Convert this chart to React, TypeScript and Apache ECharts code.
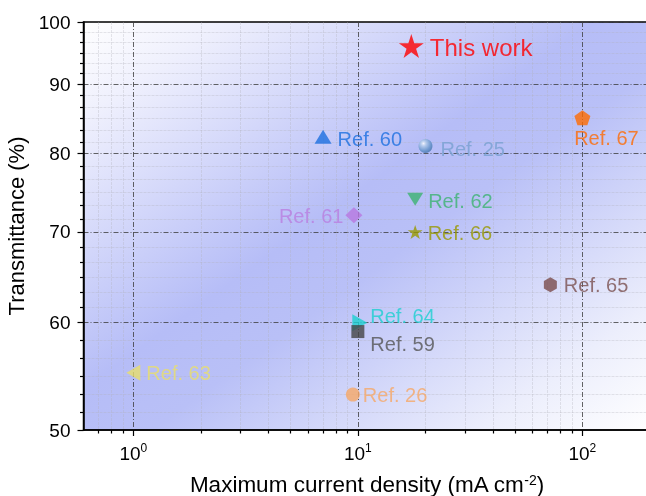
import React, { useEffect, useRef } from 'react';
import * as echarts from 'echarts';

// Devices: maximum current density (mA cm^-2) and transmittance (%)
const markNames = [
  'This work', 'Ref. 60', 'Ref. 25', 'Ref. 67', 'Ref. 62', 'Ref. 61',
  'Ref. 66', 'Ref. 65', 'Ref. 64', 'Ref. 59', 'Ref. 63', 'Ref. 26',
];
const currentDensity = [17.3, 7, 20, 100, 18, 9.6, 18, 72, 10.2, 10, 1, 9.5];
const transmittance = [96, 82.3, 81, 85, 74, 72, 70, 64, 60, 59.1, 55.1, 53.1];

// Axis ranges and ticks (raw values; both axes are logarithmic)
const xRange = [0.6, 200];
const yRange = [50, 100];
const xMajorTicks = [1, 10, 100];
const xMinorTicks = [0.7, 0.8, 0.9, 2, 3, 4, 5, 6, 7, 8, 9, 20, 30, 40, 50, 60, 70, 80, 90];
const yMajorTicks = [50, 60, 70, 80, 90, 100];
const yMinorPerInterval = 5;

const FONT = '"Liberation Sans", Arial, Helvetica, sans-serif';
const lg = (v: number) => Math.log10(v);

const STAR = 'path://M0,-1L0.2245,-0.309L0.951,-0.309L0.363,0.118L0.588,0.809L0,0.382L-0.588,0.809L-0.363,0.118L-0.951,-0.309L-0.2245,-0.309Z';
const PENTAGON = 'path://M0,-1L0.951,-0.309L0.588,0.809L-0.588,0.809L-0.951,-0.309Z';
const HEXAGON = 'path://M0,-1L0.866,-0.5L0.866,0.5L0,1L-0.866,0.5L-0.866,-0.5Z';

const sphere = new echarts.graphic.RadialGradient(0.36, 0.32, 0.75, [
  { offset: 0, color: '#ffffff' },
  { offset: 0.25, color: '#b3cdea' },
  { offset: 0.7, color: '#5e8fc6' },
  { offset: 1, color: '#3e6ea6' },
]);

type MarkStyle = {
  symbol: string;
  size: number | number[];
  rotate?: number;
  color: any;
  labelColor: string;
  fontSize?: number;
  position: string;
  distance: number;
  offset?: number[];
};

const markStyles: Record<string, MarkStyle> = {
  'This work': { symbol: STAR, size: [25, 24], color: '#ff0000', labelColor: '#ff0000', fontSize: 24, position: 'right', distance: 6, offset: [0, 1] },
  'Ref. 60': { symbol: 'triangle', size: [17, 14], color: '#1b6fe0', labelColor: '#1b6fe0', position: 'right', distance: 6, offset: [0, 2] },
  'Ref. 25': { symbol: 'circle', size: 14, color: sphere, labelColor: '#78a0cf', position: 'right', distance: 8, offset: [0, 3] },
  'Ref. 67': { symbol: PENTAGON, size: [16, 15], color: '#ff6a00', labelColor: '#ff6a00', position: 'bottom', distance: 3, offset: [24, 0] },
  'Ref. 62': { symbol: 'triangle', rotate: 180, size: [16, 13], color: '#3cb371', labelColor: '#3cb371', position: 'right', distance: 5, offset: [0, 2] },
  'Ref. 61': { symbol: 'diamond', size: [17, 16], color: '#b878e0', labelColor: '#b97ee0', position: 'left', distance: 2, offset: [0, 1] },
  'Ref. 66': { symbol: STAR, size: [15, 14], color: '#999900', labelColor: '#999900', position: 'right', distance: 5, offset: [0, 1] },
  'Ref. 65': { symbol: HEXAGON, size: [13, 15], color: '#7b4c4c', labelColor: '#7b5050', position: 'right', distance: 7 },
  'Ref. 64': { symbol: 'triangle', rotate: -90, size: [17, 15], color: '#1ccfcf', labelColor: '#1ccfcf', position: 'right', distance: 3, offset: [0, -7] },
  'Ref. 59': { symbol: 'rect', size: [13, 13], color: '#454545', labelColor: '#555555', position: 'right', distance: 6, offset: [0, 12] },
  'Ref. 63': { symbol: 'triangle', rotate: 90, size: [16, 14], color: '#e8df6a', labelColor: '#e8df6a', position: 'right', distance: 6 },
  'Ref. 26': { symbol: 'circle', size: 14, color: '#f6a766', labelColor: '#f6a766', position: 'right', distance: 3 },
};

// Minor ticks on the transmittance axis are evenly spaced on the log scale
function yMinorTickLogs(): number[] {
  const out: number[] = [];
  for (let i = 1; i < yMajorTicks.length; i++) {
    const a = lg(yMajorTicks[i - 1]);
    const b = lg(yMajorTicks[i]);
    for (let k = 1; k <= yMinorPerInterval; k++) {
      out.push(a + (k * (b - a)) / (yMinorPerInterval + 1));
    }
  }
  return out;
}

function buildOption() {
  const majorSplit = { show: true, lineStyle: { color: '#3c3c3c', width: 0.8, type: [5, 2, 1, 2] } };
  const minorSplit = { show: true, lineStyle: { color: 'rgba(175,175,185,0.4)', width: 0.8, type: [3, 1] } };
  const axisLine = { show: true, onZero: false, lineStyle: { color: '#000', width: 1.5 } };
  const hiddenLine = { show: false, onZero: false };

  const data = markNames.map((name, i) => {
    const s = markStyles[name];
    return {
      name,
      value: [lg(currentDensity[i]), lg(transmittance[i])],
      symbol: s.symbol,
      symbolSize: s.size,
      symbolRotate: s.rotate || 0,
      itemStyle: { color: s.color },
      label: {
        show: true,
        formatter: name,
        position: s.position,
        distance: s.distance,
        offset: s.offset || [0, 0],
        color: s.labelColor,
        fontSize: s.fontSize || 20,
        fontFamily: FONT,
      },
    };
  });

  return {
    animation: false,
    textStyle: { fontFamily: FONT },
    grid: {
      left: 83.5,
      right: -4,
      top: 22,
      bottom: 66,
      show: true,
      borderColor: '#000',
      borderWidth: 1.5,
      outerBoundsMode: 'none',
      backgroundColor: new echarts.graphic.LinearGradient(0, 0, 1, 1, [
        { offset: 0, color: '#ffffff' },
        { offset: 0.12, color: '#eff0fd' },
        { offset: 0.45, color: '#b6bdf7' },
        { offset: 0.56, color: '#b9c0f7' },
        { offset: 0.85, color: '#eceefc' },
        { offset: 1, color: '#ffffff' },
      ]),
    },
    xAxis: [
      {
        type: 'value',
        min: lg(xRange[0]),
        max: lg(xRange[1]),
        position: 'bottom',
        axisLine: hiddenLine,
        axisTick: { show: true, customValues: xMinorTicks.map(lg), length: 3.5, lineStyle: { color: '#000', width: 1.2 } },
        axisLabel: { show: false },
        splitLine: minorSplit,
      },
      {
        type: 'value',
        min: lg(xRange[0]),
        max: lg(xRange[1]),
        position: 'bottom',
        name: 'Maximum current density (mA cm{sup|-2})',
        nameLocation: 'middle',
        nameGap: 43,
        nameTextStyle: {
          fontSize: 22.5,
          color: '#000',
          fontFamily: FONT,
          rich: { sup: { fontSize: 14, color: '#000', fontFamily: FONT, verticalAlign: 'top', lineHeight: 14 } },
        },
        axisLine,
        axisTick: { show: true, customValues: xMajorTicks.map(lg), length: 6, lineStyle: { color: '#000', width: 1.2 } },
        axisLabel: {
          customValues: xMajorTicks.map(lg),
          margin: 12,
          formatter: (v: number) => `{b|10}{s|${Math.round(v)}}`,
          rich: {
            b: { fontSize: 19, color: '#000', fontFamily: FONT, lineHeight: 22 },
            s: { fontSize: 12, color: '#000', fontFamily: FONT, verticalAlign: 'top', lineHeight: 12 },
          },
        },
        splitLine: majorSplit,
      },
    ],
    yAxis: [
      {
        type: 'value',
        min: lg(yRange[0]),
        max: lg(yRange[1]),
        position: 'left',
        axisLine: hiddenLine,
        axisTick: { show: true, customValues: yMinorTickLogs(), length: 3.5, lineStyle: { color: '#000', width: 1.2 } },
        axisLabel: { show: false },
        splitLine: minorSplit,
      },
      {
        type: 'value',
        min: lg(yRange[0]),
        max: lg(yRange[1]),
        position: 'left',
        name: 'Transmittance (%)',
        nameLocation: 'middle',
        nameGap: 46,
        nameTextStyle: { fontSize: 22, color: '#000', fontFamily: FONT },
        axisLine,
        axisTick: { show: true, customValues: yMajorTicks.map(lg), length: 6, lineStyle: { color: '#000', width: 1.2 } },
        axisLabel: {
          customValues: yMajorTicks.map(lg),
          margin: 13,
          fontSize: 19,
          color: '#000',
          fontFamily: FONT,
          formatter: (v: number) => String(Math.round(Math.pow(10, v))),
        },
        splitLine: majorSplit,
      },
    ],
    series: [
      {
        type: 'scatter',
        xAxisIndex: 1,
        yAxisIndex: 1,
        data,
        z: 5,
      },
    ],
  };
}

export default function App() {
  const ref = useRef<HTMLDivElement>(null);
  useEffect(() => {
    const chart = echarts.init(ref.current!, null, { renderer: 'svg' });
    chart.setOption(buildOption() as any);
    return () => chart.dispose();
  }, []);
  return <div ref={ref} style={{ position: 'fixed', left: 0, top: 0, width: 646, height: 496 }} />;
}
